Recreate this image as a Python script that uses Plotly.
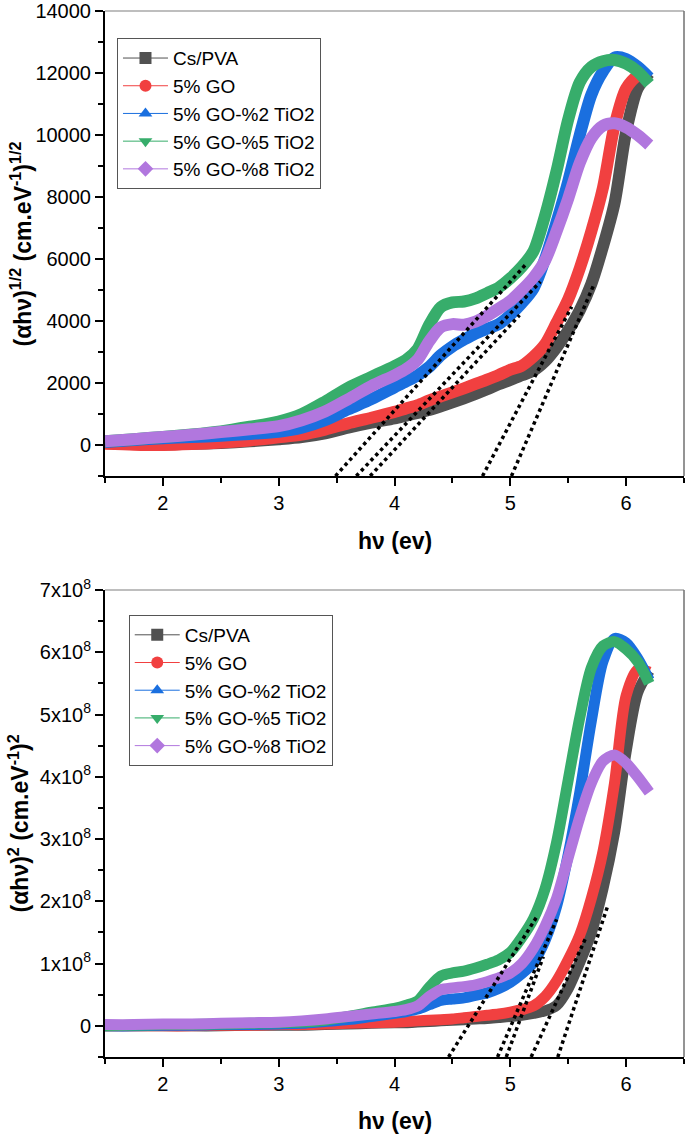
import plotly.graph_objects as go

# ---------------- data ----------------
hv = [1.5, 1.75, 2.0, 2.25, 2.5, 2.75, 3.0, 3.2, 3.4, 3.6, 3.8, 4.0, 4.1, 4.2, 4.3, 4.4, 4.5,
      4.6, 4.7, 4.8, 4.9, 5.0, 5.1, 5.2, 5.3, 5.4, 5.5, 5.6, 5.7, 5.8, 5.9, 6.0, 6.1, 6.2]

names = ["Cs/PVA", "5% GO", "5% GO-%2 TiO2", "5% GO-%5 TiO2", "5% GO-%8 TiO2"]
colors = ["#515151", "#F14040", "#1A6FDF", "#37AD6B", "#B177DE"]
symbols = ["square", "circle", "triangle-up", "triangle-down", "diamond"]

# (alpha h nu)^(1/2)
half_cs_pva = [70, 30, 20, 40, 70, 120, 190, 260, 380, 560, 720, 860, 950, 1040, 1130, 1250, 1380,
               1510, 1650, 1800, 1960, 2100, 2250, 2400, 2700, 3150, 3700, 4350, 5200, 6400, 7800,
               10100, 11500, 12000]
half_go = [40, 10, 0, 30, 80, 150, 250, 340, 500, 700, 880, 1070, 1180, 1290, 1440, 1570, 1700,
           1830, 1970, 2110, 2260, 2430, 2560, 2850, 3250, 3950, 4700, 5700, 6900, 8300, 10300,
           11500, 11900, 11850]
half_ti2 = [100, 160, 220, 260, 300, 360, 430, 560, 800, 1150, 1480, 1860, 2050, 2250, 2520, 2900,
            3180, 3400, 3600, 3750, 3900, 4200, 4580, 5050, 6000, 7200, 8500, 10000, 11300, 12050,
            12500, 12450, 12200, 11850]
half_ti5 = [120, 190, 260, 340, 440, 590, 760, 1000, 1400, 1850, 2200, 2550, 2750, 3100, 3880, 4450,
            4600, 4630, 4730, 4900, 5080, 5380, 5750, 6250, 7400, 8850, 10500, 11700, 12200, 12380,
            12420, 12300, 12050, 11650]
half_ti8 = [120, 190, 260, 330, 420, 510, 610, 800, 1080, 1480, 1900, 2250, 2450, 2750, 3350, 3800,
            3900, 3880, 3980, 4170, 4400, 4650, 5000, 5400, 5950, 6900, 7950, 9100, 9900, 10300,
            10380, 10250, 10000, 9680]

# (alpha h nu)^2
sq_cs_pva = [0, 0, 0, 0, 0, 0.1e7, 0.1e7, 0.1e7, 0.2e7, 0.3e7, 0.4e7, 0.5e7, 0.5e7, 0.6e7, 0.7e7,
             0.8e7, 0.9e7, 1.0e7, 1.1e7, 1.2e7, 1.35e7, 1.5e7, 1.7e7, 2.0e7, 2.4e7, 3.3e7, 6.0e7,
             1.02e8, 1.5e8, 2.2e8, 3.1e8, 4.4e8, 5.35e8, 5.7e8]
sq_go = [0, 0, 0, 0, 0.1e7, 0.1e7, 0.2e7, 0.2e7, 0.3e7, 0.4e7, 0.5e7, 0.6e7, 0.7e7, 0.8e7, 0.9e7,
         1.0e7, 1.1e7, 1.3e7, 1.5e7, 1.7e7, 1.9e7, 2.2e7, 2.6e7, 3.2e7, 4.7e7, 7.2e7, 1.06e8,
         1.46e8, 2.05e8, 2.8e8, 3.9e8, 5.3e8, 5.72e8, 5.68e8]
sq_ti2 = [0, 0, 0.1e7, 0.1e7, 0.2e7, 0.2e7, 0.3e7, 0.4e7, 0.7e7, 1.0e7, 1.5e7, 2.0e7, 2.3e7, 2.7e7,
          3.4e7, 4.1e7, 4.3e7, 4.5e7, 4.9e7, 5.3e7, 6.0e7, 7.0e7, 8.4e7, 1.02e8, 1.37e8, 1.92e8,
          2.75e8, 3.75e8, 4.9e8, 5.85e8, 6.22e8, 6.15e8, 5.9e8, 5.55e8]
sq_ti5 = [0, 0.1e7, 0.2e7, 0.2e7, 0.3e7, 0.4e7, 0.5e7, 0.6e7, 0.9e7, 1.5e7, 2.2e7, 2.8e7, 3.3e7,
          4.0e7, 6.2e7, 8.0e7, 8.5e7, 8.8e7, 9.3e7, 9.9e7, 1.06e8, 1.18e8, 1.42e8, 1.72e8, 2.2e8,
          2.95e8, 3.95e8, 4.95e8, 5.75e8, 6.1e8, 6.17e8, 6.05e8, 5.85e8, 5.5e8]
sq_ti8 = [0.2e7, 0.2e7, 0.3e7, 0.3e7, 0.4e7, 0.5e7, 0.6e7, 0.8e7, 1.1e7, 1.5e7, 1.9e7, 2.3e7, 2.6e7,
          3.2e7, 4.7e7, 5.8e7, 6.1e7, 6.3e7, 6.6e7, 7.1e7, 7.7e7, 8.5e7, 1.0e8, 1.25e8, 1.6e8,
          2.05e8, 2.7e8, 3.35e8, 3.9e8, 4.25e8, 4.35e8, 4.22e8, 4.0e8, 3.75e8]

# tangent (extrapolation) lines: endpoints
tan_half_x = [[5.01, 5.72], [4.76, 5.53], [3.79, 5.08], [3.49, 5.13], [3.67, 5.26]]
tan_half_y = [[-1000, 5160], [-1000, 4460], [-1000, 4190], [-1000, 5810], [-1000, 5270]]
tan_sq_x = [[5.41, 5.84], [5.18, 5.646], [4.965, 5.285], [4.467, 5.23], [4.89, 5.40]]
tan_sq_y = [[-0.5e8, 1.92e8], [-0.5e8, 1.39e8], [-0.5e8, 1.11e8], [-0.5e8, 1.756e8], [-0.5e8, 1.71e8]]

x_ticks = [2, 3, 4, 5, 6]
x_text = ["2", "3", "4", "5", "6"]
x_minor = [1.5, 2.5, 3.5, 4.5, 5.5, 6.5]
y1_ticks = [0, 2000, 4000, 6000, 8000, 10000, 12000, 14000]
y1_text = ["0", "2000", "4000", "6000", "8000", "10000", "12000", "14000"]
y1_minor = [-1000, 1000, 3000, 5000, 7000, 9000, 11000, 13000]
y2_ticks = [0, 1e8, 2e8, 3e8, 4e8, 5e8, 6e8, 7e8]
y2_text = ["0", "1x10<sup>8</sup>", "2x10<sup>8</sup>", "3x10<sup>8</sup>", "4x10<sup>8</sup>",
           "5x10<sup>8</sup>", "6x10<sup>8</sup>", "7x10<sup>8</sup>"]
y2_minor = [-0.5e8, 0.5e8, 1.5e8, 2.5e8, 3.5e8, 4.5e8, 5.5e8, 6.5e8]

half_series = [half_cs_pva, half_go, half_ti2, half_ti5, half_ti8]
sq_series = [sq_cs_pva, sq_go, sq_ti2, sq_ti5, sq_ti8]

FONT = "Arial, Liberation Sans, sans-serif"

fig = go.Figure()

for i, ys in enumerate(half_series):
    fig.add_trace(go.Scatter(x=hv, y=ys, mode="lines", showlegend=False, hoverinfo="skip",
                             line=dict(color=colors[i], width=12, shape="spline", smoothing=0.8),
                             xaxis="x", yaxis="y"))
for i, ys in enumerate(sq_series):
    fig.add_trace(go.Scatter(x=hv, y=ys, mode="lines", showlegend=False, hoverinfo="skip",
                             line=dict(color=colors[i], width=11, shape="spline", smoothing=0.8),
                             xaxis="x2", yaxis="y2"))

for xs, ys in zip(tan_half_x, tan_half_y):
    fig.add_trace(go.Scatter(x=xs, y=ys, mode="lines", showlegend=False, hoverinfo="skip",
                             line=dict(color="black", width=3.5, dash="dot"),
                             xaxis="x", yaxis="y"))
for xs, ys in zip(tan_sq_x, tan_sq_y):
    fig.add_trace(go.Scatter(x=xs, y=ys, mode="lines", showlegend=False, hoverinfo="skip",
                             line=dict(color="black", width=3.5, dash="dot"),
                             xaxis="x2", yaxis="y2"))

# legend entries
for lg, xa, ya in [("legend", "x", "y"), ("legend2", "x2", "y2")]:
    for i in range(5):
        fig.add_trace(go.Scatter(x=[None], y=[None], mode="lines+markers", name=names[i],
                                 legend=lg, xaxis=xa, yaxis=ya,
                                 line=dict(color=colors[i], width=1),
                                 marker=dict(symbol=symbols[i], size=12, color=colors[i])))

axis_common = dict(showline=True, linecolor="black", linewidth=2, ticks="outside", ticklen=8,
                   tickwidth=2, tickcolor="black", showgrid=False, zeroline=False,
                   automargin=False, tickmode="array",
                   tickfont=dict(family=FONT, size=20, color="black"))
minor_common = dict(ticks="outside", ticklen=5, tickwidth=2, tickcolor="black", showgrid=False)

top_dom = [0.5554, 1.0]
bot_dom = [0.0, 0.4465]

legend_common = dict(xanchor="left", yanchor="top", bgcolor="white",
                     bordercolor="#555555", borderwidth=1, itemwidth=45,
                     font=dict(family=FONT, size=19, color="black"), tracegroupgap=0)

fig.update_layout(
    width=685, height=1139,
    margin=dict(l=105, r=1, t=11, b=82, autoexpand=False),
    paper_bgcolor="white", plot_bgcolor="white",
    font=dict(family=FONT, color="black"),
    xaxis=dict(domain=[0, 1], anchor="y", range=[1.5, 6.5], tickvals=x_ticks, ticktext=x_text,
               minor=dict(tickvals=x_minor, **minor_common), **axis_common),
    yaxis=dict(domain=top_dom, anchor="x", range=[-1000, 14000], tickvals=y1_ticks,
               ticktext=y1_text, minor=dict(tickvals=y1_minor, **minor_common), **axis_common),
    xaxis2=dict(domain=[0, 1], anchor="y2", range=[1.5, 6.5], tickvals=x_ticks, ticktext=x_text,
                minor=dict(tickvals=x_minor, **minor_common), **axis_common),
    yaxis2=dict(domain=bot_dom, anchor="x2", range=[-0.5e8, 7e8], tickvals=y2_ticks,
                ticktext=y2_text, minor=dict(tickvals=y2_minor, **minor_common), **axis_common),
    legend=dict(x=0.0207, y=0.974, **legend_common),
    legend2=dict(x=0.041, y=0.4226, **legend_common),
    showlegend=True,
)

shapes = []
for xr, yr in [("x domain", "y domain"), ("x2 domain", "y2 domain")]:
    shapes.append(dict(type="line", xref=xr, yref=yr, x0=0, x1=1, y0=1, y1=1,
                       line=dict(color="#a8a8a8", width=1.5)))
    shapes.append(dict(type="line", xref=xr, yref=yr, x0=1, x1=1, y0=0, y1=1,
                       line=dict(color="#707070", width=1.5)))
fig.update_layout(shapes=shapes)

title_font = dict(family=FONT, size=23, color="black")
annotations = [
    dict(text="<b>h\u03bd (ev)</b>", xref="paper", yref="paper", x=0.5, y=0.4933,
         xanchor="center", yanchor="middle", showarrow=False, font=title_font),
    dict(text="<b>h\u03bd (ev)</b>", xref="paper", yref="paper", x=0.5, y=-0.0612,
         xanchor="center", yanchor="middle", showarrow=False, font=title_font),
    dict(text="<b>(\u03b1h\u03bd)<sup>1/2</sup> (cm.eV<sup>-1</sup>)<sup>1/2</sup></b>",
         xref="paper", yref="paper", x=-0.1451, y=0.7777, xanchor="center", yanchor="middle",
         textangle=-90, showarrow=False, font=title_font),
    dict(text="<b>(\u03b1h\u03bd)<sup>2</sup> (cm.eV<sup>-1</sup>)<sup>2</sup></b>",
         xref="paper", yref="paper", x=-0.1485, y=0.2233, xanchor="center", yanchor="middle",
         textangle=-90, showarrow=False, font=title_font),
]
fig.update_layout(annotations=annotations)

fig.write_html("out.html", config={"displayModeBar": False, "staticPlot": True},
               post_script="document.body.style.margin='0';document.body.style.overflow='hidden';")
